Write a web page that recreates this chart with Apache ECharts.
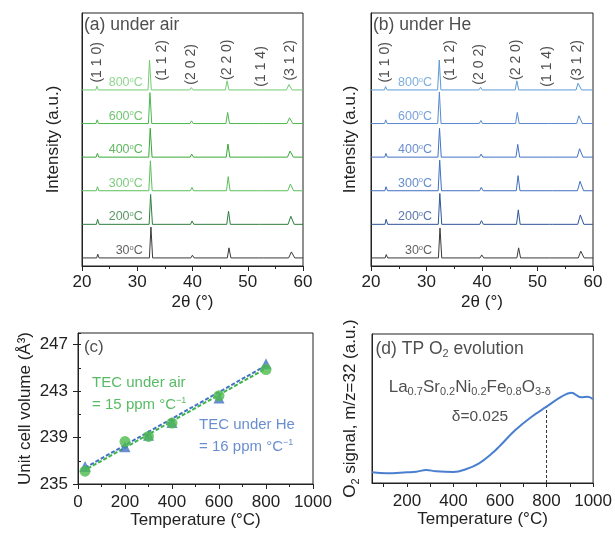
<!DOCTYPE html>
<html><head><meta charset="utf-8">
<script src="https://cdn.jsdelivr.net/npm/echarts@6/dist/echarts.min.js"></script>
<style>html,body{margin:0;padding:0;background:#fff}#c{width:615px;height:537px}</style>
</head><body><div id="c"></div>
<script>
const FONT = '"Liberation Sans", Arial, Helvetica, sans-serif';
const INK = '#222';

// ---------- XRD (panels a, b) ----------
const temps = ['30', '200', '300', '400', '600', '800'];
const stackOffsets = [0, 100, 200, 300, 400, 500];
const air30  = [[20,0],[22.65,0],[22.85,11],[23.1,0],[32.2,0],[32.48,92],[32.78,0],[39.7,0],[39.98,8],[40.3,0],[46.3,0],[46.6,30],[46.95,0],[52.2,0],[52.45,3],[52.8,0],[57.4,0],[57.9,18],[58.5,0],[60,0]];
const air200 = [[20,0],[22.6,0],[22.82,15],[23.1,0],[32.15,0],[32.42,89],[32.75,0],[39.65,0],[39.92,10],[40.25,0],[46.2,0],[46.52,39],[46.85,0],[52.15,0],[52.4,3],[52.75,0],[57.3,0],[57.8,24],[58.4,0],[60,0]];
const air300 = [[20,0],[22.58,0],[22.8,12],[23.05,0],[32.1,0],[32.38,89],[32.7,0],[39.6,0],[39.9,10],[40.2,0],[46.15,0],[46.46,42],[46.8,0],[52.1,0],[52.35,3],[52.7,0],[57.25,0],[57.72,20],[58.3,0],[60,0]];
const air400 = [[20,0],[22.56,0],[22.78,11],[23.05,0],[32.08,0],[32.35,86],[32.68,0],[39.58,0],[39.86,9],[40.2,0],[46.1,0],[46.42,39],[46.75,0],[52.05,0],[52.3,3],[52.65,0],[57.2,0],[57.66,18],[58.25,0],[60,0]];
const air600 = [[20,0],[22.52,0],[22.74,11],[23.0,0],[32.02,0],[32.3,92],[32.62,0],[39.55,0],[39.82,8],[40.15,0],[46.05,0],[46.36,33],[46.7,0],[52.0,0],[52.25,3],[52.6,0],[57.1,0],[57.56,17],[58.15,0],[60,0]];
const air800 = [[20,0],[22.5,0],[22.7,11],[22.95,0],[31.95,0],[32.22,89],[32.55,0],[39.5,0],[39.78,7],[40.1,0],[45.95,0],[46.26,27],[46.6,0],[51.95,0],[52.2,3],[52.55,0],[57.0,0],[57.45,16],[58.05,0],[60,0]];
const he30  = [[20,0],[22.55,0],[22.75,10],[23.0,0],[32.15,0],[32.43,89],[32.75,0],[39.65,0],[39.95,9],[40.3,0],[46.28,0],[46.6,30],[46.95,0],[52.2,0],[52.45,3],[52.8,0],[57.35,0],[57.8,20],[58.4,0],[60,0]];
const he200 = [[20,0],[22.52,0],[22.72,15],[23.0,0],[32.12,0],[32.4,92],[32.75,0],[39.6,0],[39.9,11],[40.25,0],[46.22,0],[46.54,43],[46.88,0],[52.15,0],[52.4,3],[52.75,0],[57.25,0],[57.72,28],[58.35,0],[60,0]];
const he300 = [[20,0],[22.5,0],[22.7,12],[22.98,0],[32.1,0],[32.38,91],[32.7,0],[39.58,0],[39.86,10],[40.2,0],[46.18,0],[46.5,45],[46.84,0],[52.1,0],[52.35,3],[52.7,0],[57.2,0],[57.66,28],[58.3,0],[60,0]];
const he400 = [[20,0],[22.48,0],[22.68,11],[22.95,0],[32.06,0],[32.35,86],[32.66,0],[39.55,0],[39.83,9],[40.15,0],[46.12,0],[46.44,38],[46.78,0],[52.05,0],[52.3,3],[52.65,0],[57.15,0],[57.58,25],[58.2,0],[60,0]];
const he600 = [[20,0],[22.45,0],[22.65,11],[22.92,0],[32.02,0],[32.32,94],[32.62,0],[39.5,0],[39.8,9],[40.1,0],[46.05,0],[46.36,33],[46.7,0],[52.0,0],[52.25,3],[52.6,0],[57.05,0],[57.46,23],[58.1,0],[60,0]];
const he800 = [[20,0],[22.42,0],[22.62,10],[22.9,0],[32.0,0],[32.3,89],[32.6,0],[39.45,0],[39.75,8],[40.05,0],[45.98,0],[46.28,27],[46.62,0],[51.95,0],[52.2,3],[52.55,0],[56.95,0],[57.3,20],[57.95,0],[60,0]];
const airColors = ['#3a3a3a', '#2f7d3d', '#5cbf5c', '#38a838', '#4cb84c', '#72cc72'];
const heColors  = ['#3a3a3a', '#2f5597', '#3f6fc2', '#4472c4', '#5689d2', '#5b9bd5'];
const hklText = ['(1 1 0)', '(1 1 2)', '(2 0 2)', '(2 2 0)', '(1 1 4)', '(3 1 2)'];
const hklXAir = [22.8, 34.5, 39.8, 46.3, 52.5, 57.6];
const hklXHe  = [22.6, 34.3, 39.4, 46.1, 51.8, 57.2];
const hklY    = [582, 588, 576, 590, 570, 588];
const tempLabelX = 31.0;
const tempLabelLift = 22;

// ---------- Unit cell volume (panel c) ----------
const cTemps = [30, 200, 300, 400, 600, 800];
const volAir = [236.1, 238.65, 239.1, 240.25, 242.6, 244.85];
const volHe  = [236.5, 238.2, 239.2, 240.3, 242.4, 245.35];
const fitAir = [[30, 236.2], [800, 244.95]];
const fitHe  = [[30, 236.4], [800, 245.2]];

// ---------- TP O2 evolution (panel d) ----------
const tpTemp   = [50, 112, 200, 240, 283, 325, 400, 453, 510, 566, 600, 666, 736, 800, 864, 906, 949, 977, 1000];
const tpSignal = [10.7, 9.7, 10.7, 11.3, 13, 11.7, 11, 13.7, 19.7, 29.7, 37.3, 53, 66.3, 76.3, 86.3, 90.3, 85.7, 86.2, 83.7];
const marker800 = [[800, 0], [800, 76.3]];

const airTraces = [air30, air200, air300, air400, air600, air800];
const heTraces = [he30, he200, he300, he400, he600, he800];

const chart = echarts.init(document.getElementById('c'), null, {renderer: 'canvas'});

function textSeries(xi, yi, data, label) {
  return {type: 'scatter', xAxisIndex: xi, yAxisIndex: yi, symbolSize: 0, silent: true,
    itemStyle: {color: 'transparent'}, data: data, label: Object.assign({show: true, fontFamily: FONT}, label), z: 10};
}

const series = [];
function xrdPanel(idx, traces, colors, hklX) {
  traces.forEach((tr, i) => {
    series.push({type: 'line', xAxisIndex: idx, yAxisIndex: idx, symbol: 'none', silent: true,
      lineStyle: {width: 1, color: colors[i]},
      data: tr.map(p => [p[0], p[1] + stackOffsets[i]])});
  });
  series.push(textSeries(idx, idx,
    temps.map((t, i) => ({value: [tempLabelX, stackOffsets[i] + tempLabelLift, t], label: {color: colors[i]}})),
    {position: 'left', distance: 0,
     formatter: p => `{n|${p.value[2]}}{o|o}{n|C}`,
     rich: {n: {fontSize: 12.5, lineHeight: 14, fontFamily: FONT}, o: {fontSize: 7.5, lineHeight: 8, verticalAlign: 'top', fontFamily: FONT}}}));
  series.push(textSeries(idx, idx,
    hklText.map((t, i) => ({value: [hklX[i], hklY[i], t]})),
    {position: 'inside', rotate: 90, color: INK, fontSize: 14, formatter: p => p.value[2]}));
}
xrdPanel(0, airTraces, airColors, hklXAir);
xrdPanel(1, heTraces, heColors, hklXHe);

// panel titles (a), (b)
series.push(textSeries(0, 0, [{value: [20.35, 693, '(a) under air']}], {position: 'right', distance: 0, color: INK, fontSize: 17.5, formatter: p => p.value[2]}));
series.push(textSeries(1, 1, [{value: [20.35, 693, '(b) under He']}], {position: 'right', distance: 0, color: INK, fontSize: 17.5, formatter: p => p.value[2]}));

// panel c
series.push({type: 'line', xAxisIndex: 2, yAxisIndex: 2, symbol: 'none', silent: true, data: fitHe,
  lineStyle: {color: '#4472c4', width: 2, type: [4, 2]}, z: 3});
series.push({type: 'line', xAxisIndex: 2, yAxisIndex: 2, symbol: 'none', silent: true, data: fitAir,
  lineStyle: {color: '#3cb44b', width: 2, type: [4, 2], dashOffset: 3}, z: 3});
series.push({type: 'scatter', xAxisIndex: 2, yAxisIndex: 2, symbol: 'triangle', symbolSize: 11, silent: true,
  itemStyle: {color: '#4472c4'}, data: cTemps.map((t, i) => [t, volHe[i]]), z: 4});
series.push({type: 'scatter', xAxisIndex: 2, yAxisIndex: 2, symbol: 'circle', symbolSize: 11, silent: true,
  itemStyle: {color: '#4cbb4c'}, data: cTemps.map((t, i) => [t, volAir[i]]), z: 5});
series.push(textSeries(2, 2, [{value: [25, 246.8, '(c)']}], {position: 'right', distance: 0, color: INK, fontSize: 17, formatter: p => p.value[2]}));
const supRich = (c) => ({m: {fontSize: 15, lineHeight: 18, color: c, fontFamily: FONT}, u: {fontSize: 9, lineHeight: 9, verticalAlign: 'top', color: c, fontFamily: FONT}});
series.push(textSeries(2, 2, [
  {value: [60, 243.7], label: {formatter: '{m|TEC under air}', rich: supRich('#2eaa3e')}},
  {value: [60, 241.8], label: {formatter: '{m|= 15 ppm °C}{u|−1}', rich: supRich('#2eaa3e')}},
  {value: [515, 240.1], label: {formatter: '{m|TEC under He}', rich: supRich('#4472c4')}},
  {value: [515, 238.2], label: {formatter: '{m|= 16 ppm °C}{u|−1}', rich: supRich('#4472c4')}}
], {position: 'right', distance: 0}));

// panel d
series.push({type: 'line', xAxisIndex: 3, yAxisIndex: 3, symbol: 'none', silent: true, smooth: 0.4,
  lineStyle: {color: '#4a7fcf', width: 2}, data: tpTemp.map((t, i) => [t, tpSignal[i]]), z: 3});
series.push({type: 'line', xAxisIndex: 3, yAxisIndex: 3, symbol: 'none', silent: true,
  lineStyle: {color: '#333', width: 1, type: [3, 2]}, data: marker800, z: 2});
const subRich = {m: {fontSize: 17, lineHeight: 21, color: INK, fontFamily: FONT}, s: {fontSize: 11, lineHeight: 11, verticalAlign: 'bottom', color: INK, fontFamily: FONT}};
series.push(textSeries(3, 3, [{value: [65, 134]}], {position: 'right', distance: 0,
  formatter: '{t|(d) TP O}{s|2}{t| evolution}',
  rich: {t: {fontSize: 17.5, lineHeight: 21, color: INK, fontFamily: FONT}, s: {fontSize: 11, lineHeight: 11, verticalAlign: 'bottom', color: INK, fontFamily: FONT}}}));
series.push(textSeries(3, 3, [{value: [470, 96]}], {position: 'inside',
  formatter: '{m|La}{s|0.7}{m|Sr}{s|0.2}{m|Ni}{s|0.2}{m|Fe}{s|0.8}{m|O}{s|3-δ}', rich: subRich}));
series.push(textSeries(3, 3, [{value: [514, 66]}], {position: 'inside', formatter: 'δ=0.025', color: INK, fontSize: 15.5}));

const labelStyle = {color: INK, fontSize: 17, fontFamily: FONT, formatter: v => String(v)};
const nameStyle = {color: INK, fontSize: 17, fontFamily: FONT};
const axisLine = {show: true, onZero: false, lineStyle: {color: INK, width: 1}};

const option = {
  animation: false,
  backgroundColor: '#fff',
  grid: [
    {left: 82, top: 13, width: 221, height: 253, show: true, borderColor: INK, borderWidth: 1},
    {left: 371, top: 13, width: 222, height: 253, show: true, borderColor: INK, borderWidth: 1},
    {left: 78, top: 333, width: 235, height: 151, show: true, borderColor: INK, borderWidth: 1},
    {left: 372, top: 334, width: 224, height: 149, show: true, borderColor: INK, borderWidth: 1}
  ],
  xAxis: [
    {gridIndex: 0, type: 'value', min: 20, max: 60, interval: 10, axisLine, splitLine: {show: false},
     axisTick: {length: 5, lineStyle: {color: INK}}, minorTick: {show: true, splitNumber: 2, length: 3, lineStyle: {color: INK}},
     axisLabel: Object.assign({margin: 8}, labelStyle), name: '2θ (°)', nameLocation: 'middle', nameGap: 28, nameTextStyle: nameStyle},
    {gridIndex: 1, type: 'value', min: 20, max: 60, interval: 10, axisLine, splitLine: {show: false},
     axisTick: {length: 5, lineStyle: {color: INK}}, minorTick: {show: true, splitNumber: 2, length: 3, lineStyle: {color: INK}},
     axisLabel: Object.assign({margin: 8}, labelStyle), name: '2θ (°)', nameLocation: 'middle', nameGap: 28, nameTextStyle: nameStyle},
    {gridIndex: 2, type: 'value', min: 0, max: 1000, interval: 200, axisLine, splitLine: {show: false},
     axisTick: {length: 5, lineStyle: {color: INK}}, minorTick: {show: true, splitNumber: 2, length: 3, lineStyle: {color: INK}},
     axisLabel: Object.assign({margin: 10}, labelStyle), name: 'Temperature (°C)', nameLocation: 'middle', nameGap: 26, nameTextStyle: nameStyle},
    {gridIndex: 3, type: 'value', min: 50, max: 1000, axisLine, splitLine: {show: false},
     axisTick: {length: 4, lineStyle: {color: INK}, customValues: [100, 200, 300, 400, 500, 600, 700, 800, 900, 1000]},
     axisLabel: Object.assign({margin: 10, customValues: [200, 400, 600, 800, 1000]}, labelStyle),
     name: 'Temperature (°C)', nameLocation: 'middle', nameGap: 26, nameTextStyle: nameStyle}
  ],
  yAxis: [
    {gridIndex: 0, type: 'value', min: -24, max: 729, axisLine, axisTick: {show: false}, axisLabel: {show: false}, splitLine: {show: false},
     name: 'Intensity (a.u.)', nameLocation: 'middle', nameGap: 20, nameTextStyle: nameStyle},
    {gridIndex: 1, type: 'value', min: -24, max: 729, axisLine, axisTick: {show: false}, axisLabel: {show: false}, splitLine: {show: false},
     name: 'Intensity (a.u.)', nameLocation: 'middle', nameGap: 12, nameTextStyle: nameStyle},
    {gridIndex: 2, type: 'value', min: 235, max: 248, interval: 4, axisLine, splitLine: {show: false},
     axisTick: {length: 5, lineStyle: {color: INK}},
     axisLabel: Object.assign({margin: 10, showMaxLabel: false}, labelStyle),
     name: 'Unit cell volume (Å³)', nameLocation: 'middle', nameGap: 44, nameTextStyle: nameStyle},
    {gridIndex: 3, type: 'value', min: 0, max: 149, axisLine, axisTick: {show: false}, axisLabel: {show: false}, splitLine: {show: false},
     name: '{m|O}{s|2}{m| signal, m/z=32 (a.u.)}', nameLocation: 'middle', nameGap: 11,
     nameTextStyle: {color: INK, fontFamily: FONT, padding: [0, 0, 0, 0],
       rich: {m: {fontSize: 17, lineHeight: 21, color: INK, fontFamily: FONT}, s: {fontSize: 11, lineHeight: 11, verticalAlign: 'bottom', color: INK, fontFamily: FONT}}}},
    {gridIndex: 2, type: 'value', min: 235, max: 248, interval: 2, axisLine: {show: false}, splitLine: {show: false},
     axisTick: {length: 3, lineStyle: {color: INK}}, axisLabel: {show: false}}
  ],
  series: series
};
chart.setOption(option);
</script></body></html>
